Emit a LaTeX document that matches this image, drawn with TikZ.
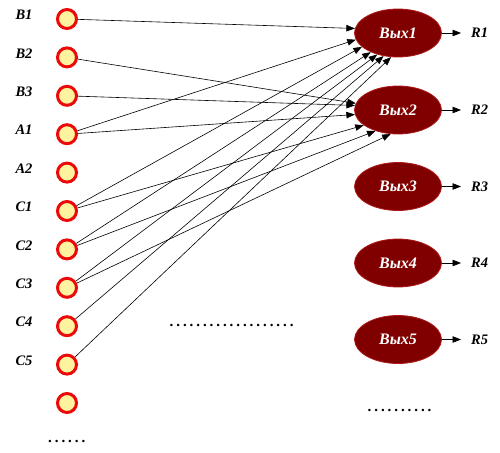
\documentclass[tikz,border=0pt]{standalone}
\usepackage{fontspec}
\setmainfont{Liberation Serif}
\usetikzlibrary{arrows.meta,shapes.geometric}
\definecolor{inred}{RGB}{235,10,10}
\definecolor{inyellow}{RGB}{255,243,160}
\definecolor{outfill}{RGB}{128,0,0}
\definecolor{outedge}{RGB}{175,25,25}
\newcount\mydotcnt
\newcommand\mydotrow[1]{\mydotcnt=0 \loop.\advance\mydotcnt by 1 \ifnum\mydotcnt<#1 \kern2.92pt\repeat}
\begin{document}
\begin{tikzpicture}[x=1pt,y=-1pt,
  inp/.style={circle,draw=inred,fill=inyellow,line width=3pt,minimum size=19pt,inner sep=0pt},
  outn/.style={ellipse,draw=outedge,fill=outfill,line width=0.8pt,minimum width=87pt,minimum height=48pt,inner sep=0pt,text=white,font=\bfseries\itshape\fontsize{16}{18}\selectfont},
  lab/.style={font=\bfseries\itshape\fontsize{14.5}{16}\selectfont,inner sep=0pt},
  conn/.style={line width=0.6pt,-{Triangle[length=8.5pt,width=6.5pt]}},
  res/.style={conn,shorten >=10pt},
  dotsty/.style={font=\bfseries\fontsize{15}{17}\selectfont,inner sep=0pt,anchor=base west}]
\useasboundingbox (0,0) rectangle (500,452);
% input circles
\node[inp] (b1) at (67,19) {};
\node[inp] (b2) at (67,57.4) {};
\node[inp] (b3) at (67,95.8) {};
\node[inp] (a1) at (67,134.2) {};
\node[inp] (a2) at (67,172.6) {};
\node[inp] (c1) at (67,211) {};
\node[inp] (c2) at (67,249.4) {};
\node[inp] (c3) at (67,287.8) {};
\node[inp] (c4) at (67,326.2) {};
\node[inp] (c5) at (67,364.6) {};
\node[inp] (c6) at (67,403) {};
% input labels
\node[lab] (lb1) at (24,15) {B1};
\node[lab] (lb2) at (24,53.4) {B2};
\node[lab] (lb3) at (24,91.8) {B3};
\node[lab] (la1) at (24,130.2) {A1};
\node[lab] (la2) at (24,168.6) {A2};
\node[lab] (lc1) at (24,207) {C1};
\node[lab] (lc2) at (24,245.4) {C2};
\node[lab] (lc3) at (24,283.8) {C3};
\node[lab] (lc4) at (24,322.2) {C4};
\node[lab] (lc5) at (24,360.6) {C5};
% outputs
\node[outn] (o1) at (398,33) {Вых1};
\node[outn] (o2) at (398,110) {Вых2};
\node[outn] (o3) at (398,186.5) {Вых3};
\node[outn] (o4) at (398,263) {Вых4};
\node[outn] (o5) at (398,339.5) {Вых5};
% results
\node[lab,anchor=west] (r1) at (471,33) {R1};
\node[lab,anchor=west] (r2) at (471,110) {R2};
\node[lab,anchor=west] (r3) at (471,186.5) {R3};
\node[lab,anchor=west] (r4) at (471,263) {R4};
\node[lab,anchor=west] (r5) at (471,339.5) {R5};
\foreach \i in {1,...,5} \draw[res] (o\i) -- (r\i);
% connections to Вых1
\draw[conn] (b1) -- (o1.174);
\draw[conn] (a1) -- (o1.189);
\draw[conn] (c1) -- (o1.201);
\draw[conn] (c2) -- (o1.215);
\draw[conn] (c3) -- (o1.226);
\draw[conn] (c4) -- (o1.238);
\draw[conn] (c5) -- (o1.254);
% connections to Вых2
\draw[conn] (b2) -- (o2.171);
\draw[conn] (b3) -- (o2.174);
\draw[conn] (a1) -- (o2.186);
\draw[conn] (c1) -- (o2.204);
\draw[conn] (c2) -- (o2.223);
\draw[conn] (c3) -- (o2.253);
% dots
\node[dotsty] (d1) at (48,442.5) {\mydotrow{6}};
\node[dotsty] (d2) at (169.5,326.5) {\mydotrow{19}};
\node[dotsty] (d3) at (367.5,411.5) {\mydotrow{10}};
\end{tikzpicture}
\end{document}
